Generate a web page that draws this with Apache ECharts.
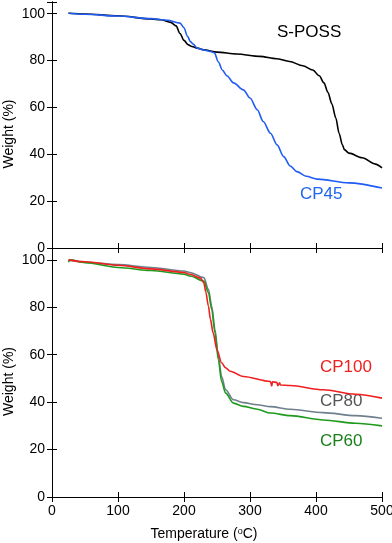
<!DOCTYPE html>
<html>
<head>
<meta charset="utf-8">
<script src="https://cdn.jsdelivr.net/npm/echarts@6/dist/echarts.min.js"></script>
<style>
    html, body { margin: 0; padding: 0; background: #fff; }
    #chart { width: 392px; height: 543px; }
</style>
</head>
<body>
<div id="chart"></div>
<script>
// Данные: температура (°C) и масса (%)
const xTicks = [0, 100, 200, 300, 400, 500];
const yTicks = [0, 20, 40, 60, 80, 100];

const sPossT = [25, 50, 100, 150, 165, 180, 188, 194, 200, 206, 212, 220, 230, 250, 280, 315, 340, 360, 380, 395, 405, 412, 418, 424, 430, 435, 440, 443, 450, 470, 490, 500];
const sPossW = [100.2, 99.9, 99.1, 97.8, 97.4, 96.3, 94.8, 91.5, 88.6, 86.8, 86.0, 85.3, 84.6, 83.6, 82.8, 81.8, 80.8, 79.6, 77.8, 76.0, 73.5, 70.5, 66.5, 61.5, 55.5, 49.0, 44.0, 42.0, 40.5, 38.5, 35.8, 34.2];

const cp45T = [25, 50, 100, 150, 175, 194, 200, 205, 210, 214, 220, 230, 240, 246, 252, 258, 265, 275, 290, 300, 311, 320, 331, 341, 351, 361, 371, 385, 402, 450, 500];
const cp45W = [100.2, 99.8, 99.0, 97.9, 97.2, 96.0, 94.0, 90.5, 88.0, 87.0, 85.3, 84.5, 83.9, 83.3, 79.5, 76.0, 73.5, 70.5, 67.5, 64.0, 59.0, 54.0, 49.0, 44.0, 39.0, 35.0, 32.6, 30.6, 29.4, 27.8, 25.6];

const cp100T = [25, 50, 100, 150, 200, 209, 225, 230, 233, 237, 240, 244, 250, 257, 263, 270, 290, 331, 333, 334, 341, 342, 345, 346, 361, 411, 460, 500];
const cp100W = [100.0, 99.2, 97.7, 96.2, 94.7, 93.9, 92.3, 90.4, 86.5, 80.5, 75.0, 69.3, 62.0, 56.6, 54.5, 53.0, 50.8, 48.7, 46.8, 48.6, 48.3, 46.9, 48.2, 47.2, 47.0, 45.2, 43.3, 41.7];

const cp80T = [25, 50, 100, 150, 200, 209, 230, 237, 242, 247, 252, 257, 263, 275, 290, 311, 331, 361, 411, 460, 500];
const cp80W = [99.8, 99.0, 98.0, 96.8, 95.3, 94.7, 92.5, 87.6, 80.5, 70.6, 59.3, 50.8, 45.2, 41.0, 39.8, 38.9, 38.1, 37.0, 35.6, 34.3, 33.2];

const cp60T = [25, 27, 50, 100, 150, 200, 209, 230, 237, 242, 247, 252, 257, 263, 275, 290, 311, 331, 361, 411, 460, 500];
const cp60W = [99.0, 100.0, 98.8, 96.8, 95.5, 94.0, 93.2, 91.1, 86.2, 79.1, 69.2, 57.9, 48.7, 43.8, 39.6, 38.2, 37.0, 35.4, 34.3, 32.5, 31.1, 30.0];

// Константы оформления
const FONT = 'Liberation Sans, Arial, sans-serif';
const AXIS_COLOR = '#000';

function pairs(xs, ys) {
    return xs.map((x, i) => [x, ys[i]]);
}

// Общая ось X
function makeX(gridIndex, position, withLabels) {
    const axis = {
        type: 'value',
        gridIndex: gridIndex,
        position: position,
        min: 0,
        max: 500,
        interval: 100,
        axisLine: { show: true, lineStyle: { color: AXIS_COLOR, width: 1 } },
        axisTick: { show: true, inside: true, length: 5, lineStyle: { color: AXIS_COLOR } },
        axisLabel: {
            show: withLabels,
            margin: 7,
            color: '#000',
            fontFamily: FONT,
            fontSize: 14,
            formatter: v => xTicks.includes(v) ? String(v) : ''
        },
        splitLine: { show: false }
    };
    if (withLabels) {
        axis.name = 'Temperature ({sup|o}C)';
        axis.nameLocation = 'middle';
        axis.nameGap = 30;
        axis.nameMoveOverlap = false;
        axis.nameTextStyle = {
            color: '#000',
            fontFamily: FONT,
            fontSize: 14,
            padding: [0, 26, 0, 0],
            rich: {
                sup: { fontSize: 9, fontFamily: FONT, color: '#000', padding: [0, 0, 6, 0] }
            }
        };
    }
    return axis;
}

// Общая ось Y
function makeY(gridIndex, position, withLabels) {
    const axis = {
        type: 'value',
        gridIndex: gridIndex,
        position: position,
        min: 0,
        max: 105,
        interval: 20,
        axisLine: { show: true, lineStyle: { color: AXIS_COLOR, width: 1 } },
        axisTick: { show: true, inside: true, length: 5, lineStyle: { color: AXIS_COLOR } },
        axisLabel: {
            show: withLabels,
            margin: 7,
            color: '#000',
            fontFamily: FONT,
            fontSize: 14,
            formatter: v => yTicks.includes(v) ? String(v) : ''
        },
        splitLine: { show: false }
    };
    if (withLabels) {
        axis.name = 'Weight (%)';
        axis.nameLocation = 'middle';
        axis.nameGap = 36;
        axis.nameMoveOverlap = false;
        axis.nameTextStyle = {
            color: '#000',
            fontFamily: FONT,
            fontSize: 14,
            padding: [0, 18, 0, 0]
        };
    }
    return axis;
}

function makeLine(name, xs, ys, color, axisIndex) {
    return {
        name: name,
        type: 'line',
        xAxisIndex: axisIndex,
        yAxisIndex: axisIndex,
        data: pairs(xs, ys),
        showSymbol: false,
        smooth: 0.3,
        smoothMonotone: 'x',
        lineStyle: { color: color, width: 1.6 },
        itemStyle: { color: color },
        silent: true
    };
}

function label(text, left, top, color) {
    return {
        type: 'text',
        left: left,
        top: top,
        style: { text: text, fill: color, font: '17px ' + FONT }
    };
}

const chart = echarts.init(document.getElementById('chart'), null, { renderer: 'canvas' });

const option = {
    animation: false,
    backgroundColor: '#fff',
    grid: [
        { left: 52, right: 10, top: 2, height: 246, outerBoundsMode: 'none', containLabel: false },
        { left: 52, right: 10, top: 248, height: 249, outerBoundsMode: 'none', containLabel: false }
    ],
    xAxis: [
        makeX(0, 'bottom', false),
        makeX(1, 'bottom', true),
        makeX(0, 'top', false),
        makeX(1, 'top', false)
    ],
    yAxis: [
        makeY(0, 'left', true),
        makeY(1, 'left', true),
        makeY(0, 'right', false),
        makeY(1, 'right', false)
    ],
    series: [
        makeLine('S-POSS', sPossT, sPossW, '#000000', 0),
        makeLine('CP45', cp45T, cp45W, '#1f5cf2', 0),
        makeLine('CP80', cp80T, cp80W, '#6f7f8c', 1),
        makeLine('CP60', cp60T, cp60W, '#1e9a1e', 1),
        makeLine('CP100', cp100T, cp100W, '#f01e1e', 1)
    ],
    graphic: [
        label('S-POSS', 277, 24, '#000000'),
        label('CP45', 300, 186, '#1f66f0'),
        label('CP100', 320, 359, '#f01e1e'),
        label('CP80', 320, 393, '#555555'),
        label('CP60', 320, 433, '#1a7f1a')
    ]
};

chart.setOption(option);
</script>
</body>
</html>
